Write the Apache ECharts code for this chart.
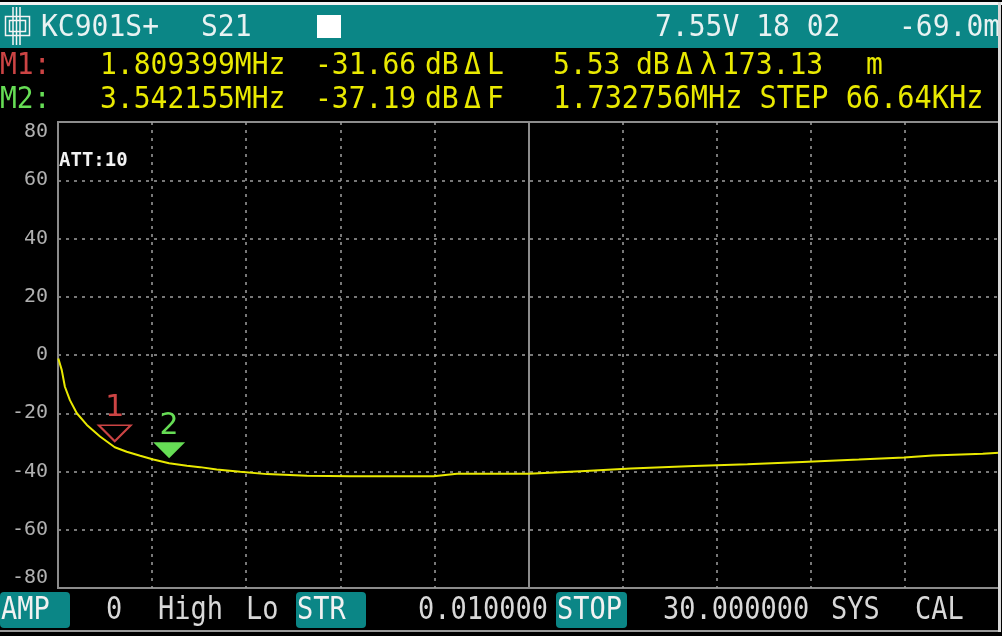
<!DOCTYPE html>
<html><head><meta charset="utf-8">
<script src="https://cdn.jsdelivr.net/npm/echarts@6/dist/echarts.min.js"></script>
<style>html,body{margin:0;padding:0;background:#000;overflow:hidden}#c{width:1002px;height:636px}</style>
</head><body><div id="c"></div>
<script>
// ---- data ----
const freqMHz = [0.01, 0.12, 0.22, 0.38, 0.6, 0.92, 1.34, 1.809399, 2.19, 2.62, 3.04, 3.542155, 4.11, 4.53, 5.06, 5.81, 6.66, 7.94, 9.32, 11.97, 12.72, 14.1, 15.0, 16.66, 18.26, 20.27, 21.98, 23.73, 25.53, 26.97, 27.88, 29.48, 30];
const traceDb = [-1.2, -5.2, -10.9, -15.5, -20.0, -24.0, -28.0, -31.66, -33.2, -34.6, -35.9, -37.19, -38.0, -38.5, -39.3, -40.1, -40.9, -41.5, -41.6, -41.6, -40.8, -40.8, -40.8, -39.9, -39.0, -38.1, -37.5, -36.7, -35.9, -35.2, -34.5, -33.9, -33.6];
const markerNames = ['1', '2'];
const markerFreq = [1.809399, 3.542155];
const markerDb = [-31.66, -37.19];
const yRange = [-80, 80];
const yStep = 20;
const xRange = [0, 30];
const xStep = 3;
const centerFreq = 15;
const headerLabels = ['KC901S+', 'S21', '7.55V 18 02', '-69.0m'];
const m1Row = ['M1:', '1.809399MHz', '-31.66', 'dB', 'Δ', 'L', '5.53', 'dB', 'Δ', 'λ', '173.13', 'm'];
const m2Row = ['M2:', '3.542155MHz', '-37.19', 'dB', 'Δ', 'F', '1.732756MHz STEP 66.64KHz'];
const bottomButtons = ['AMP', 'STR', 'STOP'];
const bottomValues = ['0', 'High', 'Lo', '0.010000', '30.000000', 'SYS', 'CAL'];
const attText = 'ATT:10';

const MONO = 'DejaVu Sans Mono';
const TEAL = '#0b8686';
const YEL = '#e9e900';
const RED = '#cc4444';
const GRN = '#66dd55';

function txt(s, x, y, color, size, extra, weight) {
  return Object.assign({
    type: 'text', x: x, y: y, z: 20,
    style: { text: s, fill: color, font: (weight ? weight + ' ' : '') + size + 'px "' + MONO + '"', textAlign: 'left', textVerticalAlign: 'middle' }
  }, extra || {});
}

const g = [];
// frame and header
g.push({ type: 'rect', z: 10, shape: { x: 0, y: 2, width: 1002, height: 3 }, style: { fill: '#f2f2f2' } });
g.push({ type: 'rect', z: 10, shape: { x: 0, y: 5, width: 998, height: 43 }, style: { fill: TEAL } });
g.push({ type: 'rect', z: 30, shape: { x: 998, y: 2, width: 3, height: 630 }, style: { fill: '#d8d8d8' } });
g.push({ type: 'rect', z: 10, shape: { x: 0, y: 630, width: 1000, height: 2 }, style: { fill: '#9a9a9a' } });
// logo
const logoLines = [[13, 7, 13, 45], [16.5, 7, 16.5, 45], [20, 7, 20, 45]];
logoLines.forEach(l => g.push({ type: 'line', z: 21, shape: { x1: l[0], y1: l[1], x2: l[2], y2: l[3] }, style: { stroke: '#f4f4f4', lineWidth: 1.5 } }));
g.push({ type: 'rect', z: 21, shape: { x: 5.5, y: 16.5, width: 24, height: 19 }, style: { fill: 'none', stroke: '#f4f4f4', lineWidth: 1.5 } });
g.push({ type: 'rect', z: 21, shape: { x: 9.5, y: 20.5, width: 16, height: 11 }, style: { fill: 'none', stroke: '#f4f4f4', lineWidth: 1.5 } });
g.push(txt(headerLabels[0], 41, 28, '#e8f2f2', 28, { scaleY: 1.08 }));
g.push(txt(headerLabels[1], 201, 28, '#e8f2f2', 28, { scaleY: 1.08 }));
g.push({ type: 'rect', z: 21, shape: { x: 317, y: 15, width: 24, height: 23 }, style: { fill: '#ffffff' } });
g.push(txt(headerLabels[2], 655, 28, '#e8f2f2', 28, { scaleY: 1.08 }));
g.push(txt(headerLabels[3], 899, 28, '#e8f2f2', 28, { scaleY: 1.08 }));
// marker rows
const r1x = [0, 100, 315, 425, 464, 487, 553, 636, 676, 700, 722, 866];
m1Row.forEach((s, i) => g.push(txt(s, r1x[i], 66, i === 0 ? RED : YEL, 28, { scaleY: 1.1 })));
const r2x = [0, 100, 315, 425, 464, 487, 553];
m2Row.forEach((s, i) => g.push(txt(s, r2x[i], 100, i === 0 ? GRN : YEL, i === 6 ? 28.6 : 28, { scaleY: 1.1 })));
// ATT
g.push(txt(attText, 59, 161, '#f2f2f2', 19, null, 'bold'));
// bottom bar
const btnX = [[0, 70], [296, 70], [556, 71]];
bottomButtons.forEach((s, i) => {
  g.push({ type: 'rect', z: 15, shape: { x: btnX[i][0], y: 592, width: btnX[i][1], height: 36, r: 4 }, style: { fill: TEAL } });
  g.push(txt(s, btnX[i][0] + 1, 611, '#f2f2f2', 27, { scaleY: 1.15 }));
});
const valX = [106, 158, 246, 418, 663, 831, 915];
bottomValues.forEach((s, i) => g.push(txt(s, valX[i], 611, '#d8d8d8', 27, { scaleY: 1.2 })));

const chart = echarts.init(document.getElementById('c'), null, { renderer: 'canvas' });
chart.setOption({
  backgroundColor: '#000',
  animation: false,
  grid: { left: 58, right: 3, top: 122, bottom: 48, show: true, borderColor: '#8c8c8c', borderWidth: 2, backgroundColor: '#000' },
  xAxis: {
    type: 'value', min: xRange[0], max: xRange[1], interval: xStep,
    axisLine: { show: false }, axisTick: { show: false }, axisLabel: { show: false },
    splitLine: { show: true, showMinLine: false, showMaxLine: false, lineStyle: { color: '#a0a0a0', width: 1.5, type: [3, 5] } }
  },
  yAxis: {
    type: 'value', min: yRange[0], max: yRange[1], interval: yStep,
    axisLine: { show: true, lineStyle: { color: '#8c8c8c', width: 2 } }, axisTick: { show: false },
    axisLabel: { color: '#b0b0b0', fontFamily: MONO, fontSize: 20, margin: 10, verticalAlignMaxLabel: 'top', verticalAlignMinLabel: 'bottom' },
    splitLine: { show: true, showMinLine: false, showMaxLine: false, lineStyle: { color: '#a0a0a0', width: 1.5, type: [3, 5] } }
  },
  series: [{
    type: 'line', data: freqMHz.map((f, i) => [f, traceDb[i]]),
    showSymbol: false, smooth: false, z: 5,
    lineStyle: { color: YEL, width: 2 },
    markLine: {
      silent: true, symbol: ['none', 'none'], label: { show: false }, z: 3,
      lineStyle: { type: 'solid', color: '#8c8c8c', width: 2 },
      data: [{ xAxis: centerFreq }]
    },
    markPoint: {
      silent: true, z: 8,
      data: markerNames.map((n, i) => ({
        coord: [markerFreq[i], markerDb[i]],
        symbol: 'path://M0,0L32,0L16,16Z',
        symbolSize: [32, 16],
        symbolOffset: [0, i === 0 ? -14 : -13],
        itemStyle: i === 0 ? { color: 'rgba(0,0,0,0)', borderColor: RED, borderWidth: 2 } : { color: GRN },
        label: { show: true, formatter: n, position: 'top', distance: 1, color: i === 0 ? RED : GRN, fontSize: 30, fontFamily: 'DejaVu Sans' }
      }))
    }
  }],
  graphic: g
});
</script></body></html>
